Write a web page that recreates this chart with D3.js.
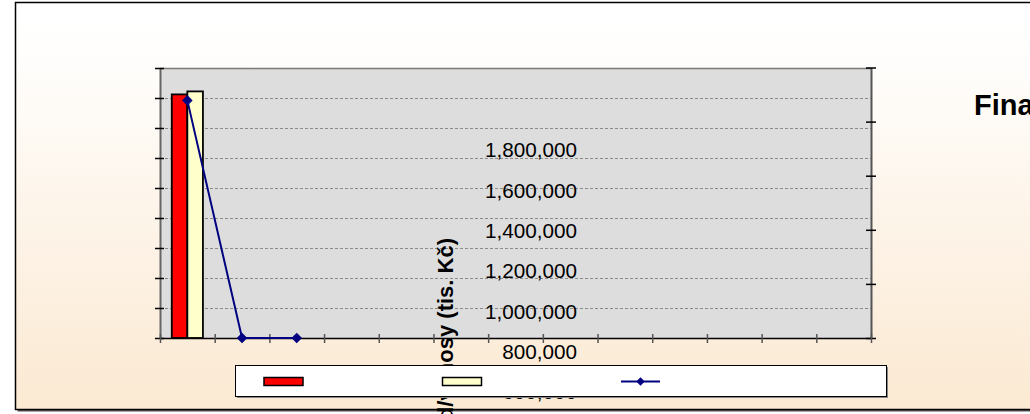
<!DOCTYPE html>
<html><head><meta charset="utf-8">
<script src="https://cdn.jsdelivr.net/npm/d3@7"></script>
<style>html,body{margin:0;padding:0;background:#fff;overflow:hidden}</style>
</head><body><svg id="c" width="1030" height="414"></svg>
<script>
// ---- data ----
const categories = ["2008","2009","2010","2011","2012","2013","2014","2015","2016","2017","2018","2019","2020"];
const seriesNames = ["Náklady","Výnosy","Výsledek"];
const redValues = [1624000];
const yellowValues = [1644000];
const lineValues = [1584000, 0, 0];
const leftTicks = [0,200000,400000,600000,800000,1000000,1200000,1400000,1600000,1800000];
const rightTicks = [0,20,40,60,80,100];
const strayLabels = [600000,800000,1000000,1200000,1400000,1600000,1800000];
const axisTitle = "Náklad/výnosy (tis. Kč)";
const chartTitle = "Finanční plán";

const svg = d3.select("#c");
const defs = svg.append("defs");
const grad = defs.append("linearGradient").attr("id","bg").attr("x1",0).attr("y1",0).attr("x2",0).attr("y2",1);
grad.append("stop").attr("offset","0%").attr("stop-color","#ffffff");
grad.append("stop").attr("offset","12%").attr("stop-color","#fffefd");
grad.append("stop").attr("offset","100%").attr("stop-color","#fbe9d2");

// frame
svg.append("rect").attr("x",17.5).attr("y",4.5).attr("width",1100).attr("height",407).attr("fill","#555");
svg.append("rect").attr("x",15.5).attr("y",2.5).attr("width",1100).attr("height",407)
  .attr("fill","url(#bg)").attr("stroke","#000").attr("stroke-width",1.5);

const L=160, R=871, T=68, B=338;
const x = d3.scaleBand().domain(categories).range([L,R]);
const xb = d3.scaleLinear().domain([0,categories.length]).range([L,R]);
const y = d3.scaleLinear().domain([0,1800000]).range([B,T]);
const yR = d3.scaleLinear().domain([0,100]).range([B,T-0.5]);

// plot area
svg.append("rect").attr("x",L).attr("y",T).attr("width",R-L).attr("height",B-T).attr("fill","#dddddd");
svg.append("g").selectAll("line").data(leftTicks.filter(d=>d>0&&d<1800000)).join("line")
  .attr("x1",L).attr("x2",R).attr("y1",d=>Math.round(y(d))+0.5).attr("y2",d=>Math.round(y(d))+0.5)
  .attr("stroke","#8a8a8a").attr("stroke-width",1).attr("stroke-dasharray","3,2");
svg.append("line").attr("x1",L).attr("x2",R).attr("y1",T+0.5).attr("y2",T+0.5).attr("stroke","#7a7a7a").attr("stroke-width",1.5);

// bars
const bw = x.bandwidth(), gw = bw*0.57;
const x1 = d3.scaleBand().domain(["r","y"]).range([0,gw]);
const bars = svg.append("g");
bars.selectAll("rect.r").data(redValues).join("rect").attr("class","r")
  .attr("x",(d,i)=>x(categories[i])+(bw-gw)/2+x1("r")).attr("width",x1.bandwidth())
  .attr("y",d=>y(d)).attr("height",d=>B-y(d))
  .attr("fill","#ff0000").attr("stroke","#000").attr("stroke-width",1.8);
bars.selectAll("rect.y").data(yellowValues).join("rect").attr("class","y")
  .attr("x",(d,i)=>x(categories[i])+(bw-gw)/2+x1("y")).attr("width",x1.bandwidth())
  .attr("y",d=>y(d)).attr("height",d=>B-y(d))
  .attr("fill","#ffffcc").attr("stroke","#000").attr("stroke-width",1.8);

// axes
const ax = svg.append("g").attr("transform",`translate(${L},0)`)
  .call(d3.axisLeft(y).tickValues(leftTicks).tickSize(5).tickSizeOuter(0).tickFormat(""));
ax.select(".domain").attr("stroke","#666").attr("stroke-width",2);
ax.selectAll(".tick line").attr("x1",4).attr("x2",-5).attr("stroke","#000").attr("stroke-width",1.5);
const ar = svg.append("g").attr("transform",`translate(${R},0)`)
  .call(d3.axisRight(yR).tickValues(rightTicks).tickSize(5).tickSizeOuter(0).tickFormat(""));
ar.select(".domain").attr("stroke","#555").attr("stroke-width",2);
ar.selectAll(".tick line").attr("x1",-5).attr("x2",5).attr("stroke","#000").attr("stroke-width",1.5);
const abx = svg.append("g").attr("transform",`translate(0,${B})`)
  .call(d3.axisBottom(xb).tickValues(d3.range(0,categories.length+1)).tickSize(5).tickSizeOuter(0).tickFormat(""));
abx.select(".domain").attr("stroke","#000").attr("stroke-width",1.5);
abx.selectAll(".tick line").attr("y1",-4).attr("y2",5).attr("stroke","#555").attr("stroke-width",1.5);

// line series
const line = d3.line().x((d,i)=>x(categories[i])+bw/2).y(d=>y(d));
svg.append("path").datum(lineValues).attr("d",line).attr("fill","none").attr("stroke","#000080").attr("stroke-width",2);
const dia = d3.symbol().type(d3.symbolSquare).size(56);
svg.append("g").selectAll("path").data(lineValues).join("path")
  .attr("d",dia).attr("fill","#000080")
  .attr("transform",(d,i)=>`translate(${x(categories[i])+bw/2},${y(d)}) rotate(45)`);

// stray value labels
const ys = d3.scaleLinear().domain([600000,1800000]).range([392,150.3]);
const ag = svg.append("g").attr("transform","translate(577,0)")
  .call(d3.axisLeft(ys).tickValues(strayLabels).tickSize(0).tickPadding(0).tickFormat(d3.format(",")));
ag.select(".domain").remove();
ag.selectAll("text").attr("font-family","'Liberation Sans', Arial, sans-serif").attr("font-size","20.7px").attr("fill","#000");

// rotated axis title
svg.append("text").attr("transform","translate(453,238) rotate(-90)")
  .attr("text-anchor","end").attr("font-family","'Liberation Sans', Arial, sans-serif")
  .attr("font-weight","bold").attr("font-size","22px").attr("fill","#000").text(axisTitle);

// chart title
svg.append("text").attr("x",974).attr("y",115).attr("font-family","'Liberation Sans', Arial, sans-serif")
  .attr("font-weight","bold").attr("font-size","29px").attr("fill","#000").text(chartTitle);

// legend
const lg = svg.append("g");
lg.append("rect").attr("x",237).attr("y",367).attr("width",651).attr("height",31).attr("fill","#888");
lg.append("rect").attr("x",235.5).attr("y",365.5).attr("width",651).attr("height",31).attr("fill","#fff").attr("stroke","#000").attr("stroke-width",1);
const lx = d3.scalePoint().domain(seriesNames).range([264,621]);
lg.selectAll("rect.sw").data(seriesNames.slice(0,2)).join("rect").attr("class","sw")
  .attr("x",d=>lx(d)).attr("y",377.5).attr("width",39).attr("height",8)
  .attr("fill",(d,i)=>i===0?"#ff0000":"#ffffcc").attr("stroke","#000").attr("stroke-width",1.5);
const l3 = lx(seriesNames[2]);
lg.append("line").attr("x1",l3).attr("x2",l3+39).attr("y1",381.5).attr("y2",381.5).attr("stroke","#000080").attr("stroke-width",2);
lg.append("path").attr("d",d3.symbol().type(d3.symbolSquare).size(36)).attr("fill","#000080")
  .attr("transform",`translate(${l3+19.5},381.5) rotate(45)`);
</script></body></html>
